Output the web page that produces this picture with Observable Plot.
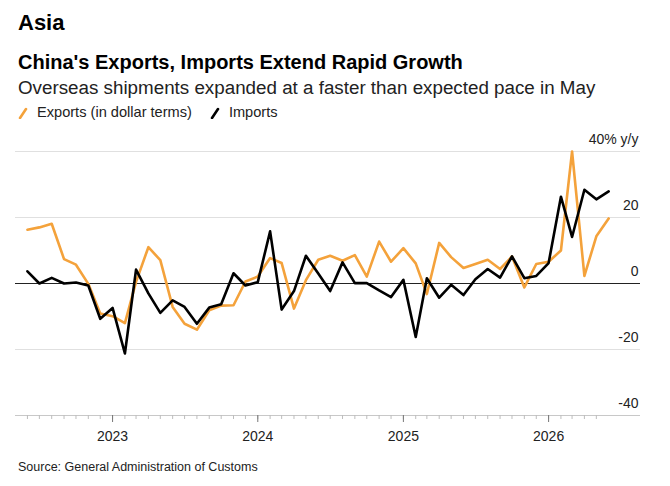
<!DOCTYPE html>
<html>
<head>
<meta charset="utf-8">
<script src="https://cdn.jsdelivr.net/npm/d3@7"></script>
<script src="https://cdn.jsdelivr.net/npm/@observablehq/plot@0.6"></script>
<style>
  html, body { margin: 0; padding: 0; background: #fff; }
  body { width: 670px; height: 486px; position: relative; overflow: hidden;
         font-family: "Liberation Sans", Arial, Helvetica, sans-serif; color: #111; }
  .abs { position: absolute; left: 18px; white-space: nowrap; }
  #kicker { top: 12px; font-size: 22px; font-weight: bold; line-height: 22px; color: #000; }
  #title { top: 52px; font-size: 20px; font-weight: bold; line-height: 20px; color: #000; }
  #subtitle { top: 78px; font-size: 18.8px; line-height: 19px; color: #222; }
  #legend { top: 105px; font-size: 14.6px; line-height: 15px; display: flex; align-items: center; color: #222; }
  #legend .item { display: flex; align-items: center; margin-right: 18px; }
  #legend svg { margin-right: 9px; }
  #chart { position: absolute; left: 0; top: 128px; }
  #source { top: 461px; font-size: 12.5px; line-height: 13px; color: #222; }
</style>
</head>
<body>
<div id="kicker" class="abs">Asia</div>
<div id="title" class="abs">China's Exports, Imports Extend Rapid Growth</div>
<div id="subtitle" class="abs">Overseas shipments expanded at a faster than expected pace in May</div>
<div id="legend" class="abs"></div>
<div id="chart"></div>
<div id="source" class="abs">Source: General Administration of Customs</div>
<script>
// ---- data ----
const months = [
  "2022-06","2022-07","2022-08","2022-09","2022-10","2022-11","2022-12",
  "2023-01","2023-02","2023-03","2023-04","2023-05","2023-06","2023-07","2023-08","2023-09","2023-10","2023-11","2023-12",
  "2024-01","2024-02","2024-03","2024-04","2024-05","2024-06","2024-07","2024-08","2024-09","2024-10","2024-11","2024-12",
  "2025-01","2025-02","2025-03","2025-04","2025-05","2025-06","2025-07","2025-08","2025-09","2025-10","2025-11","2025-12",
  "2026-01","2026-02","2026-03","2026-04","2026-05","2026-06"
];
const exportsYoY = [
  16.3, 17.0, 18.1, 7.4, 5.7, -0.1, -9.1,
  -9.9, -12.0, 0.5, 11.0, 7.1, -7.1, -12.2, -14.0, -8.1, -6.7, -6.6, 0.6,
  2.1, 7.7, 6.2, -7.6, 1.0, 7.2, 8.4, 6.9, 8.6, 2.1, 12.7, 6.6,
  10.7, 6.1, -3.2, 12.3, 8.0, 4.7, 5.9, 7.2, 4.4, 8.2, -1.2, 5.9,
  6.6, 10.0, 40.0, 2.3, 14.3, 19.7
];
const importsYoY = [
  3.7, 0.0, 1.7, 0.0, 0.3, -0.6, -10.7,
  -7.4, -21.2, 4.2, -3.0, -8.9, -5.1, -7.1, -12.2, -7.3, -6.3, 3.1, -0.6,
  0.4, 15.8, -7.9, -2.3, 8.4, 3.0, -2.3, 6.4, 0.1, 0.1, -2.1, -4.1,
  1.1, -16.2, 1.6, -4.3, -0.4, -3.5, 1.3, 4.4, 1.8, 8.2, 1.6, 2.3,
  6.2, 26.3, 14.1, 28.4, 25.5, 27.9
];
const yearLabels = ["2023", "2024", "2025", "2026"];
const minorTickMonths = months.slice(0, months.length - 1);
const yTicks = [40, 20, 0, -20, -40];
const seriesNames = ["Exports (in dollar terms)", "Imports"];
const seriesColors = ["#f4a23b", "#000000"];

// ---- build tables ----
const parse = d3.utcParse("%Y-%m");
const table = months.map((m, i) => ({date: parse(m), exports: exportsYoY[i], imports: importsYoY[i]}));
const first = table[0].date, last = table[table.length - 1].date;
const yearDates = yearLabels.map(y => d3.utcParse("%Y")(y));
const minorDates = minorTickMonths.map(parse);

// ---- legend ----
const legend = document.getElementById("legend");
seriesNames.forEach((name, i) => {
  const item = document.createElement("span");
  item.className = "item";
  item.innerHTML = `<svg width="10" height="12" viewBox="0 0 10 12"><line x1="2" y1="11" x2="8" y2="2" stroke="${seriesColors[i]}" stroke-width="2.6" stroke-linecap="round"/></svg><span>${name}</span>`;
  legend.appendChild(item);
});

// ---- chart ----
const chart = Plot.plot({
  width: 670,
  height: 317,
  marginTop: 23,
  marginBottom: 30,
  marginLeft: 15,
  marginRight: 30,
  style: {fontFamily: '"Liberation Sans", Arial, Helvetica, sans-serif', fontSize: "14px", color: "#222", background: "#fff", overflow: "visible"},
  x: {type: "utc", domain: [d3.utcDay.offset(first, -30), d3.utcDay.offset(last, 80)]},
  y: {domain: [-40, 40], axis: null},
  marks: [
    Plot.ruleY([40, 20, -20], {stroke: "#e0e0e0", strokeWidth: 1}),
    Plot.ruleY([-40], {stroke: "#c8c8c8", strokeWidth: 1}),
    Plot.axisX({ticks: minorDates, tickSize: 4, tickFormat: () => "", stroke: "#bdbdbd"}),
    Plot.axisX({ticks: yearDates, tickSize: 7, tickPadding: 9, tickFormat: "%Y", stroke: "#777", fill: "#222", fontSize: 14}),
    Plot.ruleY([0], {stroke: "#222", strokeWidth: 1}),
    Plot.text(yTicks, {y: d => d, text: d => d === 40 ? "40% y/y" : String(d), frameAnchor: "right", textAnchor: "end", dx: -2, dy: -12, fontSize: 14, fill: "#222"}),
    Plot.lineY(table, {x: "date", y: "exports", stroke: seriesColors[0], strokeWidth: 2.6}),
    Plot.lineY(table, {x: "date", y: "imports", stroke: seriesColors[1], strokeWidth: 2.6})
  ]
});
document.getElementById("chart").appendChild(chart);
</script>
</body>
</html>
